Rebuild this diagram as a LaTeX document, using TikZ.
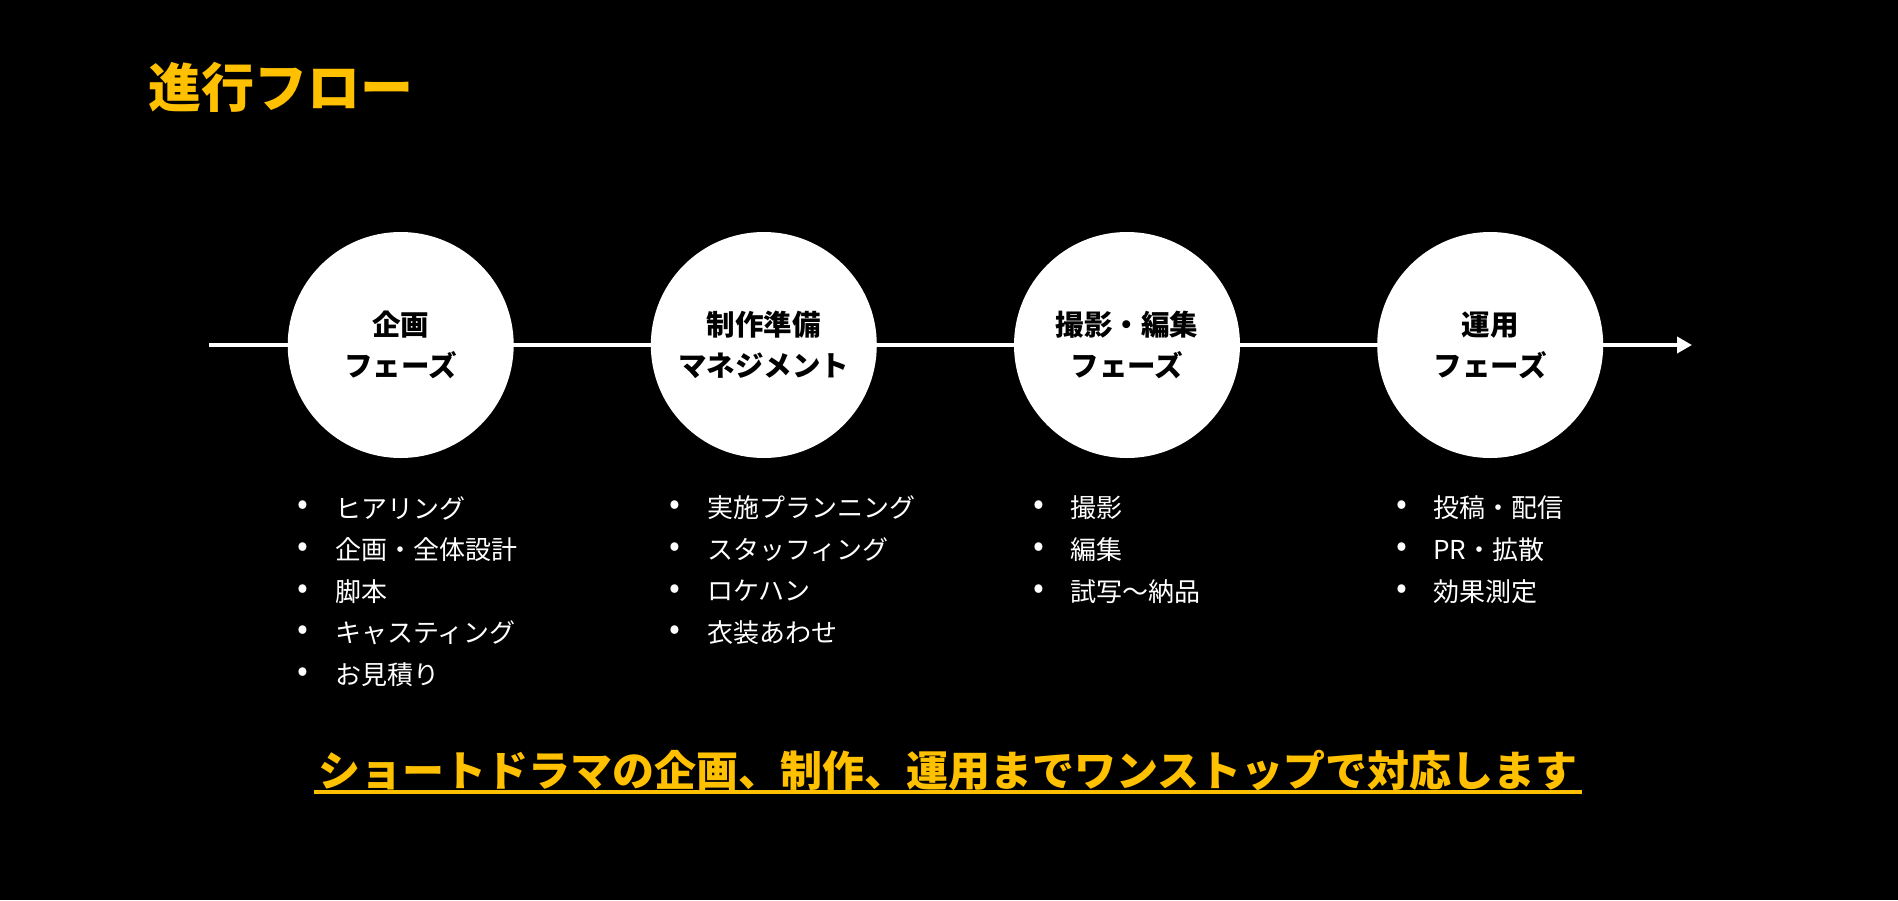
\documentclass[tikz,border=0pt]{standalone}
\usepackage{fontspec}
\newfontfamily\cjk{Noto Sans CJK JP}
\usetikzlibrary{arrows.meta}
\definecolor{gold}{HTML}{FFC000}
\begin{document}
\begin{tikzpicture}[x=1pt,y=-1pt,
  phase/.style={circle, fill=white, minimum size=226pt, inner sep=0pt, align=center, text=black,
    font=\cjk\bfseries\fontsize{28.5}{41}\selectfont},
  bul/.style={text=white, inner sep=0pt, font=\cjk\fontsize{32}{32}\selectfont},
  item/.style={text=white, inner sep=0pt, anchor=west, font=\cjk\fontsize{26}{26}\selectfont}]
\useasboundingbox (0,0) rectangle (1898,900);
\fill[black] (0,0) rectangle (1898,900);
\node[anchor=west, inner sep=0pt, text=gold, font=\cjk\bfseries\fontsize{53}{60}\selectfont] (title) at (148,87) {進行フロー};
\coordinate (start) at (209,345);
\coordinate (end) at (1692,345);
\draw[white, line width=4pt, -{Triangle[length=15pt,width=16pt]}] (start) -- (end);
\node[phase] (c1) at (400.7,345) {企画\\フェーズ};
\node[phase] (c2) at (763.8,345) {制作準備\\マネジメント};
\node[phase] (c3) at (1127,345) {撮影・編集\\フェーズ};
\node[phase] (c4) at (1490.2,345) {運用\\フェーズ};
\foreach \t [count=\i] in {ヒアリング,企画・全体設計,脚本,キャスティング,お見積り}{
  \pgfmathsetmacro\yy{508+41.6*(\i-1)}
  \node[bul] (a\i) at (302.7,\yy) {•};
  \node[item] (at\i) at (335,\yy) {\t};
}
\foreach \t [count=\i] in {実施プランニング,スタッフィング,ロケハン,衣装あわせ}{
  \pgfmathsetmacro\yy{508+41.6*(\i-1)}
  \node[bul] (b\i) at (674.5,\yy) {•};
  \node[item] (bt\i) at (707,\yy) {\t};
}
\foreach \t [count=\i] in {撮影,編集,試写〜納品}{
  \pgfmathsetmacro\yy{508+41.6*(\i-1)}
  \node[bul] (d\i) at (1038.6,\yy) {•};
  \node[item] (dt\i) at (1070,\yy) {\t};
}
\foreach \t [count=\i] in {投稿・配信,PR・拡散,効果測定}{
  \pgfmathsetmacro\yy{508+41.6*(\i-1)}
  \node[bul] (e\i) at (1401.8,\yy) {•};
  \node[item] (et\i) at (1433,\yy) {\t};
}
\node[inner sep=0pt, text=gold, font=\cjk\bfseries\fontsize{42}{48}\selectfont] (tag) at (947.7,770.5) {ショートドラマの企画、制作、運用までワンストップで対応します};
\coordinate (u1) at (313.5,792);
\coordinate (u2) at (1582,792);
\draw[gold, line width=3.5pt] (u1) -- (u2);
\end{tikzpicture}
\end{document}
